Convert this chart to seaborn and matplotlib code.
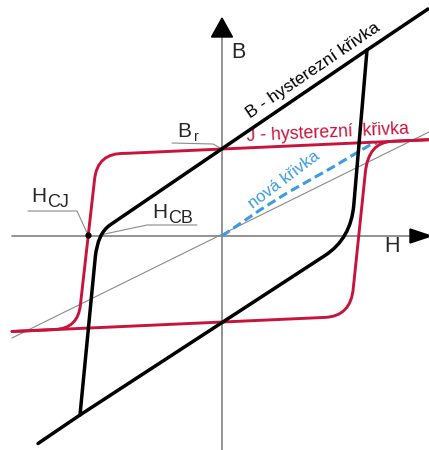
import numpy as np
import pandas as pd
import seaborn as sns
import matplotlib
matplotlib.use("Agg")
import matplotlib.pyplot as plt
from matplotlib.path import Path
from matplotlib.patches import PathPatch, Polygon

# ---- loop data (H, B/J in drawing units); kind: 'p' = point, 'c' = corner control ----
# B hysteresis loop, descending branch (from +saturation)
b_desc_H = [206, 145, -112, -124.4, -126.7, -142, -184]
b_desc_B = [227, 186, 11, 2.4, -21, -179, -207.5]
b_desc_kind = ["p", "p", "p", "c", "p", "p", "p"]
# B hysteresis loop, ascending branch
b_asc_H = [-142, 103, 129, 131.8, 145]
b_asc_B = [-179, -19.5, -2.5, 31, 186]
b_asc_kind = ["p", "p", "c", "p", "p"]

# J hysteresis loop, descending branch
j_desc_H = [207, -97, -125, -127.5, -141.6, -144, -167, -210]
j_desc_J = [96.3, 82.6, 83.4, 56, -69, -92.5, -93.5, -95.5]
j_desc_kind = ["p", "p", "c", "p", "p", "c", "p", "p"]
# J hysteresis loop, ascending branch
j_asc_H = [-210, 103, 129, 131.3, 143.4, 146.4, 170, 207]
j_asc_J = [-95.5, -81.4, -80.3, -52, 64, 93.6, 94.7, 96.3]
j_asc_kind = ["p", "p", "c", "p", "p", "c", "p", "p"]

# initial (virgin) magnetisation curve
virgin_H = [0, 38, 65, 88, 111, 131, 148, 155]
virgin_J = [0, 26, 43, 56, 69, 81, 91, 93]

# mu0*H reference line
ref_H = [-210, 207]
ref_B = [-102, 104]

# characteristic points
hcj = (-134, 1)
hcb = (-122, 1)
br = (0, 87)

RED = "#c8143c"
BLUE = "#3d9be0"
GREY = "#8a8a8a"

sns.set_theme(style="white")
plt.rcParams["font.family"] = ["Liberation Sans", "DejaVu Sans"]

fig = plt.figure(figsize=(4.29, 4.5), dpi=100)
ax = fig.add_axes([0, 0, 1, 1])
ax.set_xlim(-222, 207)
ax.set_ylim(-214, 236)
ax.axis("off")


def branch_path(xs, ys, kinds):
    verts = list(zip(xs, ys))
    codes = [Path.MOVETO]
    i = 1
    while i < len(verts):
        if kinds[i] == "c":
            codes += [Path.CURVE3, Path.CURVE3]
            i += 2
        else:
            codes.append(Path.LINETO)
            i += 1
    return Path(verts, codes)


# axes with arrow heads
ax.plot([0, 0], [-214, 200], color=GREY, lw=1.3, zorder=1)
ax.plot([-210, 190], [0, 0], color=GREY, lw=1.3, zorder=1)
ax.add_patch(Polygon([(-10.5, 199), (10.5, 199), (0, 218)], closed=True,
                     color="black", zorder=2))
ax.add_patch(Polygon([(188, 7), (188, -7), (209, 0)], closed=True,
                     color="black", zorder=2))

# reference line
sns.lineplot(x=ref_H, y=ref_B, color=GREY, lw=0.8, ax=ax, zorder=2)

# virgin curve
sns.lineplot(x=virgin_H, y=virgin_J, color=BLUE, lw=2.2, ax=ax, zorder=3,
             linestyle=(0, (3.0, 1.5)))

# J loop
for xs, ys, ks in [(j_desc_H, j_desc_J, j_desc_kind), (j_asc_H, j_asc_J, j_asc_kind)]:
    ax.add_patch(PathPatch(branch_path(xs, ys, ks), fill=False, edgecolor=RED,
                           lw=2.1, capstyle="round", joinstyle="round", zorder=4))

# B loop
for xs, ys, ks in [(b_desc_H, b_desc_B, b_desc_kind), (b_asc_H, b_asc_B, b_asc_kind)]:
    ax.add_patch(PathPatch(branch_path(xs, ys, ks), fill=False, edgecolor="black",
                           lw=2.5, capstyle="round", joinstyle="round", zorder=5))

# leader lines
lead = dict(color=GREY, lw=0.8, zorder=3)
ax.plot([-50, -9, br[0]], [93, 92, br[1]], **lead)
ax.plot([-194, -145, hcj[0]], [25, 25, hcj[1]], **lead)
ax.plot([-25, -75, hcb[0]], [11, 11, hcb[1]], **lead)
ax.plot([hcj[0]], [hcj[1]], "o", color="black", ms=3.5, zorder=6)

big = dict(fontsize=15, ha="left", va="baseline")
sub = dict(fontsize=13, ha="left", va="baseline")

# axis labels
ax.text(16, 183, "B", fontsize=15.5, ha="center", va="center")
ax.text(170, -11, "H", fontsize=15.5, ha="center", va="center")

# B_r
ax.text(-45, 99, "B", **big)
ax.text(-28, 95, "r", fontsize=10, ha="left", va="baseline")

# H_CJ
ax.text(-191, 34, "H", **big)
ax.text(-175, 29, "CJ", **sub)

# H_CB
ax.text(-70, 18, "H", **big)
ax.text(-54, 13, "CB", **sub)

# curve labels
ax.text(28, 117, "B - hysterezní křivka", fontsize=12.5, rotation=34.2,
        rotation_mode="anchor", ha="left", va="baseline", color="black")
ax.text(25, 94.5, "J - hysterezní  křivka", fontsize=12.8, rotation=2.6,
        rotation_mode="anchor", ha="left", va="baseline", color=RED)
ax.text(31, 27, "nová křivka", fontsize=12, rotation=37,
        rotation_mode="anchor", ha="left", va="baseline", color=BLUE)

fig.savefig("out.png", dpi=100)
